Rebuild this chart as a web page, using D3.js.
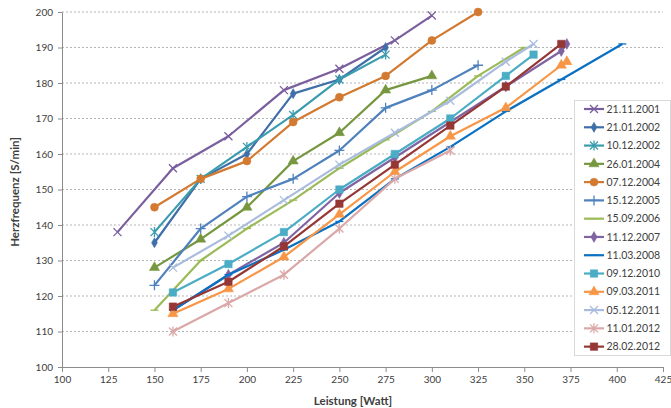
<!DOCTYPE html>
<html>
<head>
<meta charset="utf-8">
<script src="https://cdn.jsdelivr.net/npm/d3@7"></script>
<style>
body{margin:0;background:#fff;}
text{font-family:Lato,"Noto Sans",sans-serif;fill:#404040;}
</style>
</head>
<body>
<div class="chart"></div>
<script>
// series names (legend order)
var seriesNames = ["21.11.2001","21.01.2002","10.12.2002","26.01.2004","07.12.2004","15.12.2005","15.09.2006",
  "11.12.2007","11.03.2008","09.12.2010","09.03.2011","05.12.2011","11.01.2012","28.02.2012"];
// Leistung [Watt]
var wattValues = [
  [130,160,190,220,250,280,300],
  [150,175,200,225,250,275],
  [150,175,200,225,250,275],
  [150,175,200,225,250,275,300],
  [150,175,200,225,250,275,300,325],
  [150,175,200,225,250,275,300,325],
  [150,175,200,225,250,275,300,325,350],
  [160,190,220,250,280,310,340,370,373],
  [160,190,220,250,280,310,340,370,403],
  [160,190,220,250,280,310,340,355],
  [160,190,220,250,280,310,340,370,373],
  [160,190,220,250,280,310,340,355],
  [160,190,220,250,280,310],
  [160,190,220,250,280,310,340,370]
];
// Herzfrequenz [S/min]
var hfValues = [
  [138,156,165,178,184,192,199],
  [135,153,160,177,181,190],
  [138,153,162,171,181,188],
  [128,136,145,158,166,178,182],
  [145,153,158,169,176,182,192,200],
  [123,139,148,153,161,173,178,185],
  [116,130,139,147,156,164,172,182,190],
  [116,126,135,149,159,169,179,189,191],
  [116,126,133,141,153,162,172,181,191],
  [121,129,138,150,160,170,182,188],
  [115,122,131,143,155,165,173,185,186],
  [128,137,147,157,166,175,186,191],
  [110,118,126,139,153,161],
  [117,124,134,146,157,168,179,191]
];
var xTicks = [100,125,150,175,200,225,250,275,300,325,350,375,400,425];
var yTicks = [100,110,120,130,140,150,160,170,180,190,200];

var colors = ["#7a5e9e","#3f6ea8","#3a9cae","#76973f","#d27a31","#4f81bd","#9bbb59",
  "#8064a2","#0a70c2","#4bacc6","#f79646","#a9bcde","#dba8a8","#953735"];
var markers = ["x","diamondS","star","triangle","circle","plus","dash",
  "diamond","dash","square","triangle","x","star","square"];

var svgWidth = 671, svgHeight = 408;
var margin = {top: 12, right: 8, bottom: 41, left: 62};
var width = 663 - margin.left;
var height = 367 - margin.top;

var svg = d3.select(".chart").append("svg")
  .attr("width", svgWidth).attr("height", svgHeight);
var chartGroup = svg.append("g")
  .attr("transform", `translate(${margin.left},${margin.top})`);

var xScale = d3.scaleLinear().domain([100,425]).range([0,width]);
var yScale = d3.scaleLinear().domain([100,200]).range([height,0]);

// gridlines
chartGroup.selectAll(".grid").data(yTicks.slice(1)).enter()
  .append("line")
  .attr("x1",0).attr("x2",width)
  .attr("y1",d=>yScale(d)).attr("y2",d=>yScale(d))
  .attr("stroke","#b5b5b5").attr("stroke-dasharray","2,2").attr("stroke-width",1);

// axes
var xAxis = d3.axisBottom(xScale).tickValues(xTicks).tickSize(5).tickSizeOuter(0).tickPadding(4);
var yAxis = d3.axisLeft(yScale).tickValues(yTicks).tickSize(4).tickSizeOuter(0).tickPadding(5);
var gx = chartGroup.append("g").attr("transform",`translate(0,${height})`).call(xAxis);
var gy = chartGroup.append("g").call(yAxis);
[gx,gy].forEach(function(g){
  g.selectAll("path,line").attr("stroke","#8c8c8c");
  g.selectAll("text").style("font-size","10px").attr("fill","#404040");
});

function markerPath(type){
  var s = 4;
  switch(type){
    case "x": return `M${-s},${-s}L${s},${s}M${-s},${s}L${s},${-s}`;
    case "plus": return `M${-s-1},0L${s+1},0M0,${-s-1}L0,${s+1}`;
    case "star": return `M${-s},${-s}L${s},${s}M${-s},${s}L${s},${-s}M0,${-s-1}L0,${s+1}`;
    case "dash": return "M-4,0L4,0";
    case "circle": return d3.symbol(d3.symbolCircle, 50)();
    case "square": return d3.symbol(d3.symbolSquare, 56)();
    case "triangle": return d3.symbol(d3.symbolTriangle, 45)();
    case "diamond": return d3.symbol(d3.symbolDiamond, 34)();
    case "diamondS": return d3.symbol(d3.symbolDiamond, 30)();
  }
}
function isOpen(type){ return type=="x"||type=="plus"||type=="star"||type=="dash"; }

var line = d3.line().x(d=>xScale(d[0])).y(d=>yScale(d[1]));

seriesNames.forEach(function(name,i){
  var pts = wattValues[i].map((w,j)=>[w,hfValues[i][j]]);
  chartGroup.append("path")
    .attr("d", line(pts))
    .attr("fill","none")
    .attr("stroke",colors[i])
    .attr("stroke-width",2.2)
    .attr("stroke-linejoin","round");
  chartGroup.selectAll(".m"+i).data(pts).enter()
    .append("path")
    .attr("transform",d=>`translate(${xScale(d[0])},${yScale(d[1])})`)
    .attr("d", markerPath(markers[i]))
    .attr("fill", isOpen(markers[i]) ? "none" : colors[i])
    .attr("stroke", colors[i])
    .attr("stroke-width", isOpen(markers[i]) ? 1.3 : 0.5);
});

// axis titles
svg.append("text")
  .attr("x", 353).attr("y", 405)
  .attr("text-anchor","middle")
  .style("font-size","11.5px").style("font-weight","bold")
  .attr("fill","#262626")
  .text("Leistung [Watt]");
svg.append("text")
  .attr("transform","translate(19,192) rotate(-90)")
  .attr("text-anchor","middle")
  .style("font-size","11.5px").style("font-weight","bold")
  .attr("fill","#262626")
  .text("Herzfrequenz [S/min]");

// legend
var legend = svg.append("g");
legend.append("rect")
  .attr("x",574.5).attr("y",100.5).attr("width",96).attr("height",255)
  .attr("fill","#fff").attr("stroke","#d9d9d9");
seriesNames.forEach(function(name,i){
  var y = 109 + i*18.28;
  var g = legend.append("g");
  g.append("line").attr("x1",584).attr("x2",604).attr("y1",y).attr("y2",y)
    .attr("stroke",colors[i]).attr("stroke-width",2.2);
  g.append("path").attr("transform",`translate(594,${y})`)
    .attr("d",markerPath(markers[i]))
    .attr("fill", isOpen(markers[i]) ? "none" : colors[i])
    .attr("stroke",colors[i]).attr("stroke-width", isOpen(markers[i]) ? 1.3 : 0.5);
  g.append("text").attr("x",606.5).attr("y",y).attr("dy","0.35em")
    .style("font-size","10.5px").attr("fill","#262626").text(name);
});
</script>
</body>
</html>
